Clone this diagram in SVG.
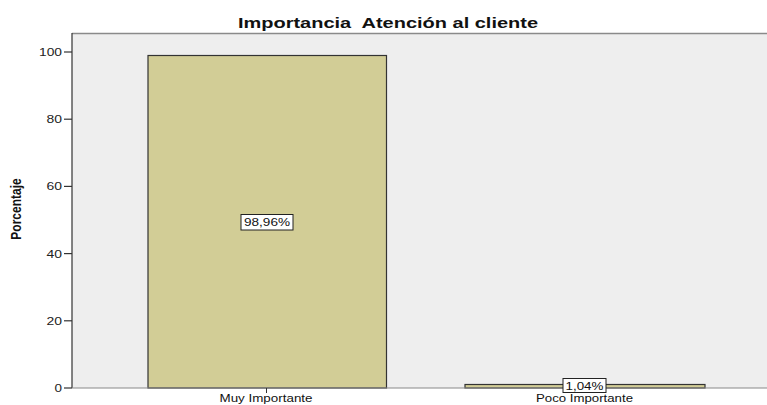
<svg xmlns="http://www.w3.org/2000/svg" width="767" height="405" viewBox="0 0 767 405">
<style>
.tk{font-family:"Liberation Sans",Arial,sans-serif;font-size:11px;fill:#222;text-anchor:end}
.cat{font-family:"Liberation Sans",Arial,sans-serif;font-size:10.5px;fill:#111;text-anchor:middle}
.lbl{font-family:"Liberation Sans",Arial,sans-serif;font-size:11px;fill:#111;text-anchor:middle}
.bar{fill:#d2cd96;stroke:#333;stroke-width:1.2}
.box{fill:#fff;stroke:#222;stroke-width:1}
</style>
<rect width="767" height="405" fill="#fff"/>
<text x="238" y="28" xml:space="preserve" textLength="300" lengthAdjust="spacingAndGlyphs" font-family="Liberation Sans,Arial,sans-serif" font-size="14.5" font-weight="bold" fill="#111">Importancia  Atención al cliente</text>
<rect x="72" y="33" width="695" height="355" fill="#eeeeee"/>
<line x1="72" y1="33.5" x2="767" y2="33.5" stroke="#8a8a8a" stroke-width="1.5"/>
<g id="y-axis">
<line x1="72" y1="33" x2="72" y2="388" stroke="#333" stroke-width="1.2"/>
<g stroke="#333" stroke-width="1.2">
<line x1="64" y1="52" x2="72" y2="52"/>
<line x1="64" y1="119.2" x2="72" y2="119.2"/>
<line x1="64" y1="186.4" x2="72" y2="186.4"/>
<line x1="64" y1="253.6" x2="72" y2="253.6"/>
<line x1="64" y1="320.8" x2="72" y2="320.8"/>
<line x1="64" y1="388" x2="72" y2="388"/>
</g>
<text class="tk" x="62" y="56" textLength="23" lengthAdjust="spacingAndGlyphs">100</text>
<text class="tk" x="62" y="123" textLength="15.5" lengthAdjust="spacingAndGlyphs">80</text>
<text class="tk" x="62" y="190" textLength="15.5" lengthAdjust="spacingAndGlyphs">60</text>
<text class="tk" x="62" y="257.5" textLength="15.5" lengthAdjust="spacingAndGlyphs">40</text>
<text class="tk" x="62" y="324.5" textLength="15.5" lengthAdjust="spacingAndGlyphs">20</text>
<text class="tk" x="62" y="392" textLength="7.5" lengthAdjust="spacingAndGlyphs">0</text>
<text transform="translate(21,209) rotate(-90) scale(0.8,1)" font-family="Liberation Sans,Arial,sans-serif" font-size="15" font-weight="bold" text-anchor="middle" fill="#111">Porcentaje</text>
</g>
<g id="bar-muy">
<rect class="bar" x="148" y="55.5" width="238.5" height="332.5"/>
<rect class="box" x="241" y="214.5" width="52" height="15.5"/>
<text class="lbl" x="267" y="226" textLength="46" lengthAdjust="spacingAndGlyphs">98,96%</text>
</g>
<g id="bar-poco">
<rect class="bar" x="465" y="384.5" width="240" height="3.5"/>
</g>
<g id="x-axis">
<line x1="72" y1="388" x2="767" y2="388" stroke="#888" stroke-width="1.2"/>
<line x1="266.5" y1="388" x2="266.5" y2="393" stroke="#333" stroke-width="1"/>
<line x1="585" y1="388" x2="585" y2="393" stroke="#333" stroke-width="1"/>
<text class="cat" x="266" y="402" textLength="93" lengthAdjust="spacingAndGlyphs">Muy Importante</text>
<text class="cat" x="584.5" y="402" textLength="97" lengthAdjust="spacingAndGlyphs">Poco Importante</text>
</g>
<g id="label-poco">
<rect class="box" x="563" y="378.5" width="43" height="14"/>
<text class="lbl" x="584.5" y="389.5" textLength="38" lengthAdjust="spacingAndGlyphs">1,04%</text>
</g>
</svg>
